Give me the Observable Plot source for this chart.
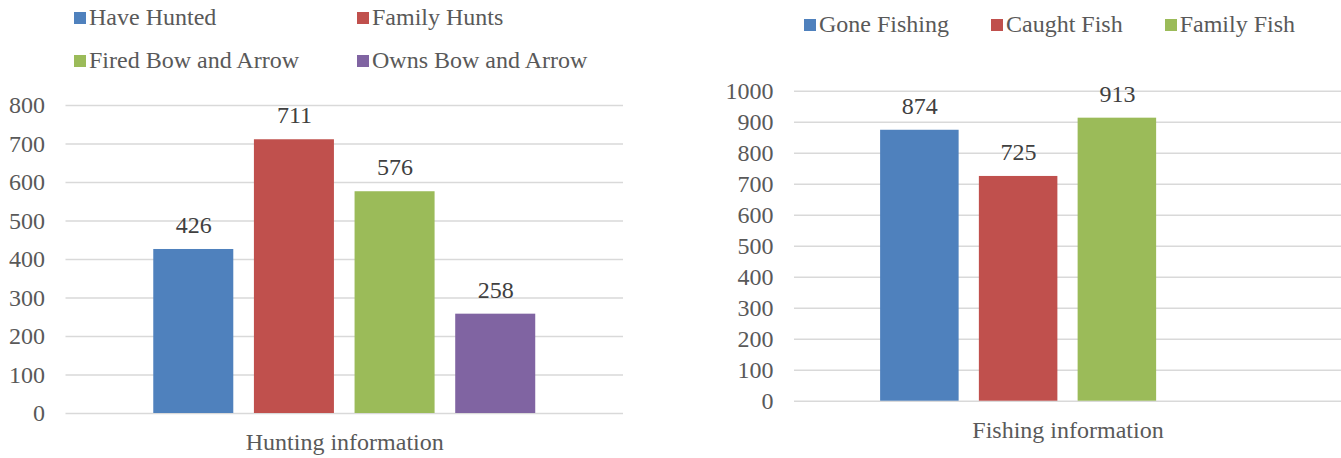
<!DOCTYPE html>
<html>
<head>
<meta charset="utf-8">
<script src="https://cdn.jsdelivr.net/npm/d3@7"></script>
<script src="https://cdn.jsdelivr.net/npm/@observablehq/plot@0.6"></script>
<style>
  html, body { margin: 0; padding: 0; background: #fff; }
  #root { position: relative; width: 1341px; height: 458px; overflow: hidden; font-family: "Liberation Serif", "Times New Roman", serif; }
  .chart { position: absolute; top: 0; }
  .legend { position: absolute; color: #595959; font-size: 24px; line-height: 28px; }
  .legend .item { display: flex; align-items: center; white-space: nowrap; }
  .legend .sw { width: 12px; height: 12px; margin-right: 3px; flex: none; position: relative; top: 1px; }
  #legHunt { left: 74px; top: 3px; display: grid; grid-template-columns: 283px 283px; row-gap: 15px; }
  #legFish { left: 804px; top: 10px; display: flex; column-gap: 42px; }
</style>
</head>
<body>
<div id="root">
  <div id="left" class="chart" style="left:0px"></div>
  <div id="right" class="chart" style="left:700px"></div>
  <div id="legHunt" class="legend"></div>
  <div id="legFish" class="legend"></div>
</div>
<script>
const hunting = ["Have Hunted", "Family Hunts", "Fired Bow and Arrow", "Owns Bow and Arrow"];
const huntingValues = [426, 711, 576, 258];
const huntingColors = ["#4F81BD", "#C0504D", "#9BBB59", "#8064A2"];
const huntingTicks = [0, 100, 200, 300, 400, 500, 600, 700, 800];
const huntingTitle = "Hunting information";

const fishing = ["Gone Fishing", "Caught Fish", "Family Fish"];
const fishingValues = [874, 725, 913];
const fishingColors = ["#4F81BD", "#C0504D", "#9BBB59"];
const fishingTicks = [0, 100, 200, 300, 400, 500, 600, 700, 800, 900, 1000];
const fishingTitle = "Fishing information";

function chart({names, values, colors, ticks, title, slots, width, height, marginLeft, marginRight, marginTop, marginBottom}) {
  const data = names.map((n, i) => ({name: n, value: values[i]}));
  return Plot.plot({
    width, height, marginLeft, marginRight, marginTop, marginBottom,
    style: {fontFamily: "'Liberation Serif', 'Times New Roman', serif", fontSize: "24px", background: "transparent", overflow: "visible"},
    x: {domain: slots, paddingInner: 0.205, paddingOuter: 0.872, round: false, axis: null},
    y: {domain: [0, d3.max(ticks)], axis: null},
    color: {domain: names, range: colors},
    marks: [
      Plot.ruleY(ticks, {stroke: "#d9d9d9", strokeWidth: 1.5}),
      Plot.barY(data, {x: "name", y: "value", fill: "name"}),
      Plot.text(data, {x: "name", y: "value", text: d => String(d.value), dy: -24, lineAnchor: "middle", fill: "#404040", fontSize: 24}),
      Plot.axisY(ticks, {tickSize: 0, tickPadding: 21, fontSize: 24, color: "#595959", label: null, tickFormat: d => String(d)}),
      Plot.text([title], {frameAnchor: "bottom", lineAnchor: "middle", dy: 29, fill: "#595959", fontSize: 24})
    ]
  });
}

document.getElementById("left").appendChild(chart({
  names: hunting, values: huntingValues, colors: huntingColors, ticks: huntingTicks, title: huntingTitle,
  slots: hunting,
  width: 700, height: 458, marginLeft: 65.5, marginRight: 77, marginTop: 105, marginBottom: 45
}));

document.getElementById("right").appendChild(chart({
  names: fishing, values: fishingValues, colors: fishingColors, ticks: fishingTicks, title: fishingTitle,
  slots: [...fishing, ""],
  width: 641, height: 458, marginLeft: 94, marginRight: 0, marginTop: 90.7, marginBottom: 57.3
}));

function legend(id, names, colors) {
  const el = document.getElementById(id);
  names.forEach((n, i) => {
    const item = document.createElement("div");
    item.className = "item";
    const sw = document.createElement("span");
    sw.className = "sw";
    sw.style.background = colors[i];
    const tx = document.createElement("span");
    tx.textContent = n;
    item.appendChild(sw);
    item.appendChild(tx);
    el.appendChild(item);
  });
}
legend("legHunt", hunting, huntingColors);
legend("legFish", fishing, fishingColors);
</script>
</body>
</html>
